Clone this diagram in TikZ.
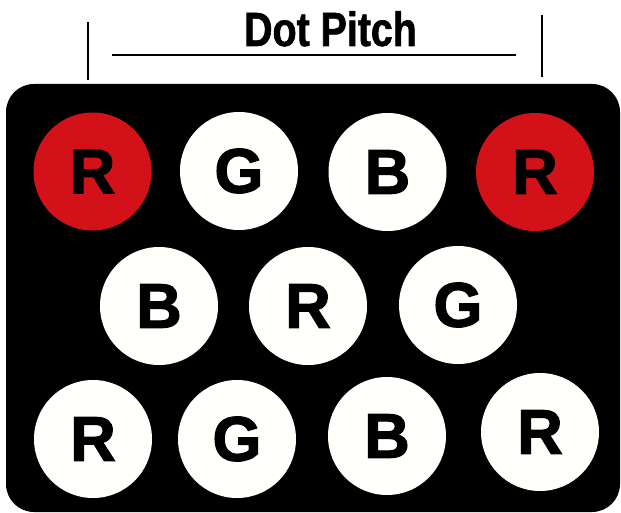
\documentclass[tikz,border=0pt]{standalone}
\usepackage{fontspec}
\setmainfont{Liberation Sans}
\newfontfamily\pitchfont[FakeStretch=0.82,FakeBold=1.2]{Liberation Sans Bold}
\newfontfamily\dotfont[FakeBold=2]{Liberation Sans Bold}
\usepackage{xcolor}
\usetikzlibrary{positioning}
\definecolor{dotred}{RGB}{210,18,24}
\definecolor{dotwhite}{RGB}{255,255,252}

\begin{document}
\begin{tikzpicture}[
  x=1pt, y=-1pt,
  panel/.style={fill=black, rounded corners=28pt},
  dot/.style={circle, minimum size=118pt, inner sep=0pt, fill=dotwhite,
    font=\dotfont\fontsize{63}{63}\selectfont},
  rule/.style={draw, line width=2pt},
  title/.style={anchor=base, inner sep=0pt,
    font=\pitchfont\fontsize{48}{48}\selectfont},
]
\useasboundingbox (0,0) rectangle (621,513);
% black mask
\fill[panel] (6,84) rectangle (620,512);
% phosphor dots
\foreach \name/\x/\y/\txt/\fc in {
    a1/92.5/171.5/R/dotred, a2/239/171/G/dotwhite, a3/387.5/172/B/dotwhite, a4/535/172/R/dotred,
    b1/159/306/B/dotwhite, b2/308/306/R/dotwhite, b3/458/305/G/dotwhite,
    c1/93/439/R/dotwhite, c2/237/439/G/dotwhite, c3/387/436/B/dotwhite, c4/540/432/R/dotwhite}
  \node[dot, fill=\fc] (\name) at (\x,\y) {\raisebox{-3pt}{\txt}};
% pitch marker
\node[title] (pitch) at (330.5,46) {Dot Pitch};
\coordinate (tickL top) at (88,22);
\coordinate (tickL bot) at (88,80);
\coordinate (tickR top) at (542,15);
\coordinate (tickR bot) at (542,77);
\coordinate (ruleL) at (112,55.5);
\coordinate (ruleR) at (516,55.5);
\draw[rule] (tickL top) -- (tickL bot);
\draw[rule] (tickR top) -- (tickR bot);
\draw[rule] (ruleL) -- (ruleR);
\end{tikzpicture}
\end{document}
